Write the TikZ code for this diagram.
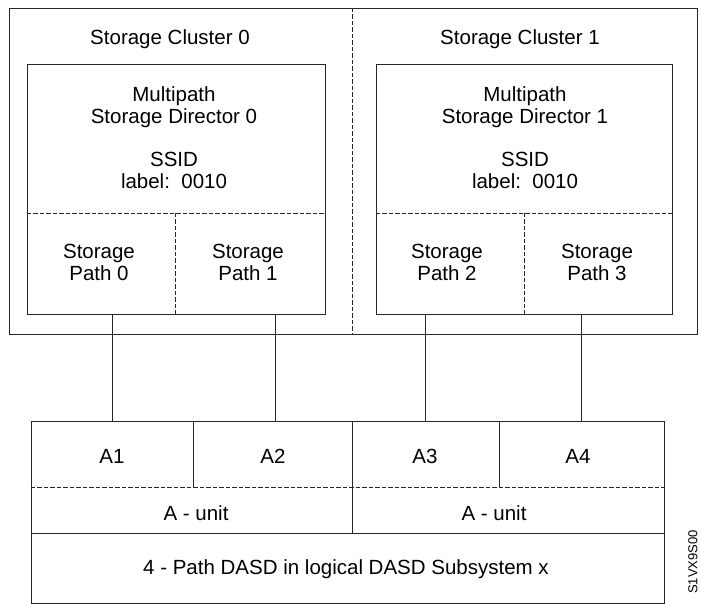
\documentclass[tikz,border=0pt]{standalone}
\usepackage{fontspec}
\setmainfont{Liberation Sans}
\newcommand\lab{\fontsize{20.5}{22}\selectfont}
\begin{document}
\begin{tikzpicture}[x=1pt,y=1pt,
  frame/.style={draw=black!85, line width=0.9pt, rectangle, inner sep=0pt},
  solidline/.style={draw=black!85, line width=0.9pt},
  divider/.style={draw=black!85, line width=0.8pt, dash pattern=on 4.5pt off 2pt},
  txt/.style={inner sep=0pt, align=center, font=\lab},
  link/.style={draw=black!85, line width=0.9pt}]
\useasboundingbox (0,0) rectangle (701,604);

% storage clusters
\node[frame, minimum width=688pt, minimum height=326pt] (clusters) at (353,433) {};
\draw[divider] (352,596) -- (352,270);
\node[txt] (cl0) at (170,565) {Storage Cluster 0};
\node[txt] (cl1) at (520,565) {Storage Cluster 1};

% storage directors
\node[frame, minimum width=298pt, minimum height=250pt] (dir0) at (176,415) {};
\node[frame, minimum width=296pt, minimum height=250pt] (dir1) at (524,415) {};
\draw[divider] (dir0.west |- 0,391) -- (dir0.east |- 0,391);
\draw[divider] (175,391) -- (175,0 |- dir0.south);
\draw[divider] (dir1.west |- 0,391) -- (dir1.east |- 0,391);
\draw[divider] (524,391) -- (524,0 |- dir1.south);

\node[txt] (md0) at (174,496.5) {Multipath\\Storage Director 0};
\node[txt] (ss0) at (174,433.5) {SSID\\label:\ \ 0010};
\node[txt] (md1) at (525,496.5) {Multipath\\Storage Director 1};
\node[txt] (ss1) at (525,433.5) {SSID\\label:\ \ 0010};

\node[txt] (p0) at (99,342) {Storage\\Path 0};
\node[txt] (p1) at (248,342) {Storage\\Path 1};
\node[txt] (p2) at (447,342) {Storage\\Path 2};
\node[txt] (p3) at (597,342) {Storage\\Path 3};

% DASD subsystem
\node[frame, minimum width=633pt, minimum height=182pt] (dasd) at (347.5,92) {};
\draw[divider] (dasd.west |- 0,117) -- (dasd.east |- 0,117);
\draw[solidline] (dasd.west |- 0,71) -- (dasd.east |- 0,71);
\draw[solidline] (352,0 |- dasd.north) -- (352,71);
\draw[solidline] (193,0 |- dasd.north) -- (193,117);
\draw[solidline] (499,0 |- dasd.north) -- (499,117);

\node[txt] (a1) at (112,148) {A1};
\node[txt] (a2) at (273,148) {A2};
\node[txt] (a3) at (425,148) {A3};
\node[txt] (a4) at (578,148) {A4};
\node[txt] (u0) at (196,91) {A - unit};
\node[txt] (u1) at (494,91) {A - unit};
\node[txt] (sub) at (346,35) {4 - Path DASD in logical DASD Subsystem x};

% paths between directors and the DASD
\draw[link] (a1 |- dasd.north) -- (a1 |- dir0.south);
\draw[link] (275,0 |- dasd.north) -- (275,0 |- dir0.south);
\draw[link] (a3 |- dasd.north) -- (a3 |- dir1.south);
\draw[link] (581,0 |- dasd.north) -- (581,0 |- dir1.south);

% figure id in the margin
\node[rotate=90, anchor=east, inner sep=0pt, font=\fontsize{13}{13}\selectfont] (figid) at (693,74) {S1VX9S00};
\end{tikzpicture}
\end{document}
